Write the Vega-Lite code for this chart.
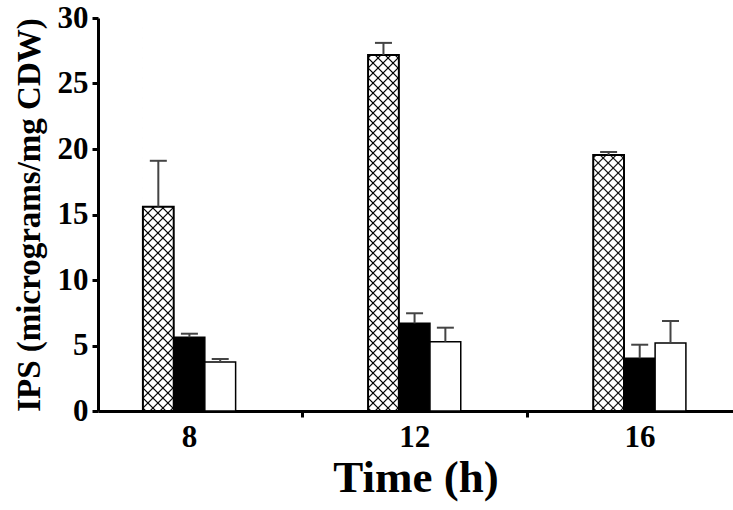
{
  "$schema": "https://vega.github.io/schema/vega-lite/v6.json",
  "width": 635,
  "height": 393,
  "autosize": {"type": "none"},
  "padding": {"left": 98, "top": 18, "right": 0, "bottom": 99},
  "background": "white",
  "config": {"view": {"stroke": null}, "font": "Liberation Serif"},
  "data": {"values": [
    {"time": 8, "series": "S1", "value": 15.6, "upper": 19.1},
    {"time": 8, "series": "S2", "value": 5.63, "upper": 5.9},
    {"time": 8, "series": "S3", "value": 3.74, "upper": 3.97},
    {"time": 12, "series": "S1", "value": 27.18, "upper": 28.1},
    {"time": 12, "series": "S2", "value": 6.69, "upper": 7.46},
    {"time": 12, "series": "S3", "value": 5.29, "upper": 6.36},
    {"time": 16, "series": "S1", "value": 19.54, "upper": 19.77},
    {"time": 16, "series": "S2", "value": 4.02, "upper": 5.06},
    {"time": 16, "series": "S3", "value": 5.19, "upper": 6.87}
  ]},
  "encoding": {
    "x": {"field": "time", "type": "quantitative",
      "scale": {"domain": [6.47, 17.574], "nice": false, "zero": false},
      "axis": {"title": "Time (h)", "values": [8, 10, 12, 14, 16],
        "labelExpr": "(datum.value == 10 || datum.value == 14) ? '' : datum.label",
        "tickOpacity": {"condition": {"test": "datum.value == 10 || datum.value == 14", "value": 1}, "value": 0},
        "grid": false, "domainColor": "#000", "domainWidth": 3, "tickColor": "#000", "tickWidth": 3, "tickSize": 6,
        "labelFont": "Liberation Serif", "labelFontWeight": "bold", "labelFontSize": 31, "labelColor": "#000",
        "labelPadding": 5, "labelFlush": false, "labelOverlap": false,
        "titleFont": "Liberation Serif", "titleFontWeight": "bold", "titleFontSize": 45, "titleColor": "#000", "titlePadding": 3}},
    "y": {"field": "value", "type": "quantitative",
      "scale": {"domain": [0, 30], "nice": false, "zero": true},
      "axis": {"title": "IPS (micrograms/mg CDW)", "values": [0, 5, 10, 15, 20, 25, 30],
        "grid": false, "domainColor": "#000", "domainWidth": 3, "tickColor": "#000", "tickWidth": 3, "tickSize": 6,
        "labelFont": "Liberation Serif", "labelFontWeight": "bold", "labelFontSize": 31, "labelColor": "#000",
        "labelPadding": 4, "labelFlush": false, "labelOverlap": false,
        "titleFont": "Liberation Serif", "titleFontWeight": "bold", "titleFontSize": 33, "titleColor": "#000", "titlePadding": 11}}
  },
  "layer": [
    {"transform": [{"filter": "datum.series == 'S1'"}],
     "mark": {"type": "bar", "orient": "vertical", "width": 30.8, "xOffset": -30.8, "strokeWidth": 0,
       "fill": {"gradient": "linear", "x1": 0, "y1": 0, "x2": 0.0991, "y2": 1.264497, "stops": [
        {"offset": 0, "color": "#fff"},
        {"offset": 0.017, "color": "#fff"}, {"offset": 0.02, "color": "#000"}, {"offset": 0.023, "color": "#fff"},
        {"offset": 0.037, "color": "#fff"}, {"offset": 0.04, "color": "#000"}, {"offset": 0.043, "color": "#fff"},
        {"offset": 0.057, "color": "#fff"}, {"offset": 0.06, "color": "#000"}, {"offset": 0.063, "color": "#fff"},
        {"offset": 0.077, "color": "#fff"}, {"offset": 0.08, "color": "#000"}, {"offset": 0.083, "color": "#fff"},
        {"offset": 0.097, "color": "#fff"}, {"offset": 0.1, "color": "#000"}, {"offset": 0.103, "color": "#fff"},
        {"offset": 0.117, "color": "#fff"}, {"offset": 0.12, "color": "#000"}, {"offset": 0.123, "color": "#fff"},
        {"offset": 0.137, "color": "#fff"}, {"offset": 0.14, "color": "#000"}, {"offset": 0.143, "color": "#fff"},
        {"offset": 0.157, "color": "#fff"}, {"offset": 0.16, "color": "#000"}, {"offset": 0.163, "color": "#fff"},
        {"offset": 0.177, "color": "#fff"}, {"offset": 0.18, "color": "#000"}, {"offset": 0.183, "color": "#fff"},
        {"offset": 0.197, "color": "#fff"}, {"offset": 0.2, "color": "#000"}, {"offset": 0.203, "color": "#fff"},
        {"offset": 0.217, "color": "#fff"}, {"offset": 0.22, "color": "#000"}, {"offset": 0.223, "color": "#fff"},
        {"offset": 0.237, "color": "#fff"}, {"offset": 0.24, "color": "#000"}, {"offset": 0.243, "color": "#fff"},
        {"offset": 0.257, "color": "#fff"}, {"offset": 0.26, "color": "#000"}, {"offset": 0.263, "color": "#fff"},
        {"offset": 0.277, "color": "#fff"}, {"offset": 0.28, "color": "#000"}, {"offset": 0.283, "color": "#fff"},
        {"offset": 0.297, "color": "#fff"}, {"offset": 0.3, "color": "#000"}, {"offset": 0.303, "color": "#fff"},
        {"offset": 0.317, "color": "#fff"}, {"offset": 0.32, "color": "#000"}, {"offset": 0.323, "color": "#fff"},
        {"offset": 0.337, "color": "#fff"}, {"offset": 0.34, "color": "#000"}, {"offset": 0.343, "color": "#fff"},
        {"offset": 0.357, "color": "#fff"}, {"offset": 0.36, "color": "#000"}, {"offset": 0.363, "color": "#fff"},
        {"offset": 0.377, "color": "#fff"}, {"offset": 0.38, "color": "#000"}, {"offset": 0.383, "color": "#fff"},
        {"offset": 0.397, "color": "#fff"}, {"offset": 0.4, "color": "#000"}, {"offset": 0.403, "color": "#fff"},
        {"offset": 0.417, "color": "#fff"}, {"offset": 0.42, "color": "#000"}, {"offset": 0.423, "color": "#fff"},
        {"offset": 0.437, "color": "#fff"}, {"offset": 0.44, "color": "#000"}, {"offset": 0.443, "color": "#fff"},
        {"offset": 0.457, "color": "#fff"}, {"offset": 0.46, "color": "#000"}, {"offset": 0.463, "color": "#fff"},
        {"offset": 0.477, "color": "#fff"}, {"offset": 0.48, "color": "#000"}, {"offset": 0.483, "color": "#fff"},
        {"offset": 0.497, "color": "#fff"}, {"offset": 0.5, "color": "#000"}, {"offset": 0.503, "color": "#fff"},
        {"offset": 0.517, "color": "#fff"}, {"offset": 0.52, "color": "#000"}, {"offset": 0.523, "color": "#fff"},
        {"offset": 0.537, "color": "#fff"}, {"offset": 0.54, "color": "#000"}, {"offset": 0.543, "color": "#fff"},
        {"offset": 0.557, "color": "#fff"}, {"offset": 0.56, "color": "#000"}, {"offset": 0.563, "color": "#fff"},
        {"offset": 0.577, "color": "#fff"}, {"offset": 0.58, "color": "#000"}, {"offset": 0.583, "color": "#fff"},
        {"offset": 0.597, "color": "#fff"}, {"offset": 0.6, "color": "#000"}, {"offset": 0.603, "color": "#fff"},
        {"offset": 0.617, "color": "#fff"}, {"offset": 0.62, "color": "#000"}, {"offset": 0.623, "color": "#fff"},
        {"offset": 0.637, "color": "#fff"}, {"offset": 0.64, "color": "#000"}, {"offset": 0.643, "color": "#fff"},
        {"offset": 0.657, "color": "#fff"}, {"offset": 0.66, "color": "#000"}, {"offset": 0.663, "color": "#fff"},
        {"offset": 0.677, "color": "#fff"}, {"offset": 0.68, "color": "#000"}, {"offset": 0.683, "color": "#fff"},
        {"offset": 0.697, "color": "#fff"}, {"offset": 0.7, "color": "#000"}, {"offset": 0.703, "color": "#fff"},
        {"offset": 0.717, "color": "#fff"}, {"offset": 0.72, "color": "#000"}, {"offset": 0.723, "color": "#fff"},
        {"offset": 0.737, "color": "#fff"}, {"offset": 0.74, "color": "#000"}, {"offset": 0.743, "color": "#fff"},
        {"offset": 0.757, "color": "#fff"}, {"offset": 0.76, "color": "#000"}, {"offset": 0.763, "color": "#fff"},
        {"offset": 0.777, "color": "#fff"}, {"offset": 0.78, "color": "#000"}, {"offset": 0.783, "color": "#fff"},
        {"offset": 0.797, "color": "#fff"}, {"offset": 0.8, "color": "#000"}, {"offset": 0.803, "color": "#fff"},
        {"offset": 0.817, "color": "#fff"}, {"offset": 0.82, "color": "#000"}, {"offset": 0.823, "color": "#fff"},
        {"offset": 0.837, "color": "#fff"}, {"offset": 0.84, "color": "#000"}, {"offset": 0.843, "color": "#fff"},
        {"offset": 1, "color": "#fff"}
       ]}},
     "encoding": {"y": {"datum": 0}, "y2": {"datum": 30}}},
    {"transform": [{"filter": "datum.series == 'S1'"}],
     "mark": {"type": "bar", "orient": "vertical", "width": 30.8, "xOffset": -30.8, "strokeWidth": 0,
       "fill": {"gradient": "linear", "x1": 0, "y1": 1.017812, "x2": 0.0991, "y2": -0.246685, "stops": [
        {"offset": 0, "color": "rgba(0,0,0,0)"},
        {"offset": 0.017, "color": "rgba(0,0,0,0)"}, {"offset": 0.02, "color": "#000"}, {"offset": 0.023, "color": "rgba(0,0,0,0)"},
        {"offset": 0.037, "color": "rgba(0,0,0,0)"}, {"offset": 0.04, "color": "#000"}, {"offset": 0.043, "color": "rgba(0,0,0,0)"},
        {"offset": 0.057, "color": "rgba(0,0,0,0)"}, {"offset": 0.06, "color": "#000"}, {"offset": 0.063, "color": "rgba(0,0,0,0)"},
        {"offset": 0.077, "color": "rgba(0,0,0,0)"}, {"offset": 0.08, "color": "#000"}, {"offset": 0.083, "color": "rgba(0,0,0,0)"},
        {"offset": 0.097, "color": "rgba(0,0,0,0)"}, {"offset": 0.1, "color": "#000"}, {"offset": 0.103, "color": "rgba(0,0,0,0)"},
        {"offset": 0.117, "color": "rgba(0,0,0,0)"}, {"offset": 0.12, "color": "#000"}, {"offset": 0.123, "color": "rgba(0,0,0,0)"},
        {"offset": 0.137, "color": "rgba(0,0,0,0)"}, {"offset": 0.14, "color": "#000"}, {"offset": 0.143, "color": "rgba(0,0,0,0)"},
        {"offset": 0.157, "color": "rgba(0,0,0,0)"}, {"offset": 0.16, "color": "#000"}, {"offset": 0.163, "color": "rgba(0,0,0,0)"},
        {"offset": 0.177, "color": "rgba(0,0,0,0)"}, {"offset": 0.18, "color": "#000"}, {"offset": 0.183, "color": "rgba(0,0,0,0)"},
        {"offset": 0.197, "color": "rgba(0,0,0,0)"}, {"offset": 0.2, "color": "#000"}, {"offset": 0.203, "color": "rgba(0,0,0,0)"},
        {"offset": 0.217, "color": "rgba(0,0,0,0)"}, {"offset": 0.22, "color": "#000"}, {"offset": 0.223, "color": "rgba(0,0,0,0)"},
        {"offset": 0.237, "color": "rgba(0,0,0,0)"}, {"offset": 0.24, "color": "#000"}, {"offset": 0.243, "color": "rgba(0,0,0,0)"},
        {"offset": 0.257, "color": "rgba(0,0,0,0)"}, {"offset": 0.26, "color": "#000"}, {"offset": 0.263, "color": "rgba(0,0,0,0)"},
        {"offset": 0.277, "color": "rgba(0,0,0,0)"}, {"offset": 0.28, "color": "#000"}, {"offset": 0.283, "color": "rgba(0,0,0,0)"},
        {"offset": 0.297, "color": "rgba(0,0,0,0)"}, {"offset": 0.3, "color": "#000"}, {"offset": 0.303, "color": "rgba(0,0,0,0)"},
        {"offset": 0.317, "color": "rgba(0,0,0,0)"}, {"offset": 0.32, "color": "#000"}, {"offset": 0.323, "color": "rgba(0,0,0,0)"},
        {"offset": 0.337, "color": "rgba(0,0,0,0)"}, {"offset": 0.34, "color": "#000"}, {"offset": 0.343, "color": "rgba(0,0,0,0)"},
        {"offset": 0.357, "color": "rgba(0,0,0,0)"}, {"offset": 0.36, "color": "#000"}, {"offset": 0.363, "color": "rgba(0,0,0,0)"},
        {"offset": 0.377, "color": "rgba(0,0,0,0)"}, {"offset": 0.38, "color": "#000"}, {"offset": 0.383, "color": "rgba(0,0,0,0)"},
        {"offset": 0.397, "color": "rgba(0,0,0,0)"}, {"offset": 0.4, "color": "#000"}, {"offset": 0.403, "color": "rgba(0,0,0,0)"},
        {"offset": 0.417, "color": "rgba(0,0,0,0)"}, {"offset": 0.42, "color": "#000"}, {"offset": 0.423, "color": "rgba(0,0,0,0)"},
        {"offset": 0.437, "color": "rgba(0,0,0,0)"}, {"offset": 0.44, "color": "#000"}, {"offset": 0.443, "color": "rgba(0,0,0,0)"},
        {"offset": 0.457, "color": "rgba(0,0,0,0)"}, {"offset": 0.46, "color": "#000"}, {"offset": 0.463, "color": "rgba(0,0,0,0)"},
        {"offset": 0.477, "color": "rgba(0,0,0,0)"}, {"offset": 0.48, "color": "#000"}, {"offset": 0.483, "color": "rgba(0,0,0,0)"},
        {"offset": 0.497, "color": "rgba(0,0,0,0)"}, {"offset": 0.5, "color": "#000"}, {"offset": 0.503, "color": "rgba(0,0,0,0)"},
        {"offset": 0.517, "color": "rgba(0,0,0,0)"}, {"offset": 0.52, "color": "#000"}, {"offset": 0.523, "color": "rgba(0,0,0,0)"},
        {"offset": 0.537, "color": "rgba(0,0,0,0)"}, {"offset": 0.54, "color": "#000"}, {"offset": 0.543, "color": "rgba(0,0,0,0)"},
        {"offset": 0.557, "color": "rgba(0,0,0,0)"}, {"offset": 0.56, "color": "#000"}, {"offset": 0.563, "color": "rgba(0,0,0,0)"},
        {"offset": 0.577, "color": "rgba(0,0,0,0)"}, {"offset": 0.58, "color": "#000"}, {"offset": 0.583, "color": "rgba(0,0,0,0)"},
        {"offset": 0.597, "color": "rgba(0,0,0,0)"}, {"offset": 0.6, "color": "#000"}, {"offset": 0.603, "color": "rgba(0,0,0,0)"},
        {"offset": 0.617, "color": "rgba(0,0,0,0)"}, {"offset": 0.62, "color": "#000"}, {"offset": 0.623, "color": "rgba(0,0,0,0)"},
        {"offset": 0.637, "color": "rgba(0,0,0,0)"}, {"offset": 0.64, "color": "#000"}, {"offset": 0.643, "color": "rgba(0,0,0,0)"},
        {"offset": 0.657, "color": "rgba(0,0,0,0)"}, {"offset": 0.66, "color": "#000"}, {"offset": 0.663, "color": "rgba(0,0,0,0)"},
        {"offset": 0.677, "color": "rgba(0,0,0,0)"}, {"offset": 0.68, "color": "#000"}, {"offset": 0.683, "color": "rgba(0,0,0,0)"},
        {"offset": 0.697, "color": "rgba(0,0,0,0)"}, {"offset": 0.7, "color": "#000"}, {"offset": 0.703, "color": "rgba(0,0,0,0)"},
        {"offset": 0.717, "color": "rgba(0,0,0,0)"}, {"offset": 0.72, "color": "#000"}, {"offset": 0.723, "color": "rgba(0,0,0,0)"},
        {"offset": 0.737, "color": "rgba(0,0,0,0)"}, {"offset": 0.74, "color": "#000"}, {"offset": 0.743, "color": "rgba(0,0,0,0)"},
        {"offset": 0.757, "color": "rgba(0,0,0,0)"}, {"offset": 0.76, "color": "#000"}, {"offset": 0.763, "color": "rgba(0,0,0,0)"},
        {"offset": 0.777, "color": "rgba(0,0,0,0)"}, {"offset": 0.78, "color": "#000"}, {"offset": 0.783, "color": "rgba(0,0,0,0)"},
        {"offset": 0.797, "color": "rgba(0,0,0,0)"}, {"offset": 0.8, "color": "#000"}, {"offset": 0.803, "color": "rgba(0,0,0,0)"},
        {"offset": 0.817, "color": "rgba(0,0,0,0)"}, {"offset": 0.82, "color": "#000"}, {"offset": 0.823, "color": "rgba(0,0,0,0)"},
        {"offset": 0.837, "color": "rgba(0,0,0,0)"}, {"offset": 0.84, "color": "#000"}, {"offset": 0.843, "color": "rgba(0,0,0,0)"},
        {"offset": 0.857, "color": "rgba(0,0,0,0)"}, {"offset": 0.86, "color": "#000"}, {"offset": 0.863, "color": "rgba(0,0,0,0)"},
        {"offset": 1, "color": "rgba(0,0,0,0)"}
       ]}},
     "encoding": {"y": {"datum": 0}, "y2": {"datum": 30}}},
    {"transform": [{"filter": "datum.series == 'S1'"}],
     "mark": {"type": "bar", "orient": "vertical", "width": 32.5, "xOffset": -30.8, "fill": "#fff", "strokeWidth": 0},
     "encoding": {"y2": {"datum": 30}}},
    {"transform": [{"filter": "datum.series == 'S1'"}],
     "mark": {"type": "bar", "orient": "vertical", "width": 30.8, "xOffset": -30.8, "fill": "transparent", "stroke": "#000", "strokeWidth": 2}},
    {"transform": [{"filter": "datum.series == 'S2'"}],
     "mark": {"type": "bar", "orient": "vertical", "width": 30.8, "xOffset": 0.3, "fill": "#000", "stroke": "#000", "strokeWidth": 1.5}},
    {"transform": [{"filter": "datum.series == 'S3'"}],
     "mark": {"type": "bar", "orient": "vertical", "width": 30.8, "xOffset": 31.1, "fill": "#fff", "stroke": "#000", "strokeWidth": 1.5}},
    {"transform": [{"filter": "datum.series == 'S1'"}],
     "mark": {"type": "rule", "xOffset": -30.8, "color": "#444", "strokeWidth": 2},
     "encoding": {"y2": {"field": "upper"}}},
    {"transform": [{"filter": "datum.series == 'S2'"}],
     "mark": {"type": "rule", "xOffset": 0.3, "color": "#444", "strokeWidth": 2},
     "encoding": {"y2": {"field": "upper"}}},
    {"transform": [{"filter": "datum.series == 'S3'"}],
     "mark": {"type": "rule", "xOffset": 31.1, "color": "#444", "strokeWidth": 2},
     "encoding": {"y2": {"field": "upper"}}},
    {"transform": [{"filter": "datum.series == 'S1'"}],
     "mark": {"type": "rule", "xOffset": -39.3, "x2Offset": -22.3, "color": "#444", "strokeWidth": 2},
     "encoding": {"x2": {"field": "time"}, "y": {"field": "upper", "type": "quantitative"}}},
    {"transform": [{"filter": "datum.series == 'S2'"}],
     "mark": {"type": "rule", "xOffset": -8.2, "x2Offset": 8.8, "color": "#444", "strokeWidth": 2},
     "encoding": {"x2": {"field": "time"}, "y": {"field": "upper", "type": "quantitative"}}},
    {"transform": [{"filter": "datum.series == 'S3'"}],
     "mark": {"type": "rule", "xOffset": 22.6, "x2Offset": 39.6, "color": "#444", "strokeWidth": 2},
     "encoding": {"x2": {"field": "time"}, "y": {"field": "upper", "type": "quantitative"}}}
  ]
}
